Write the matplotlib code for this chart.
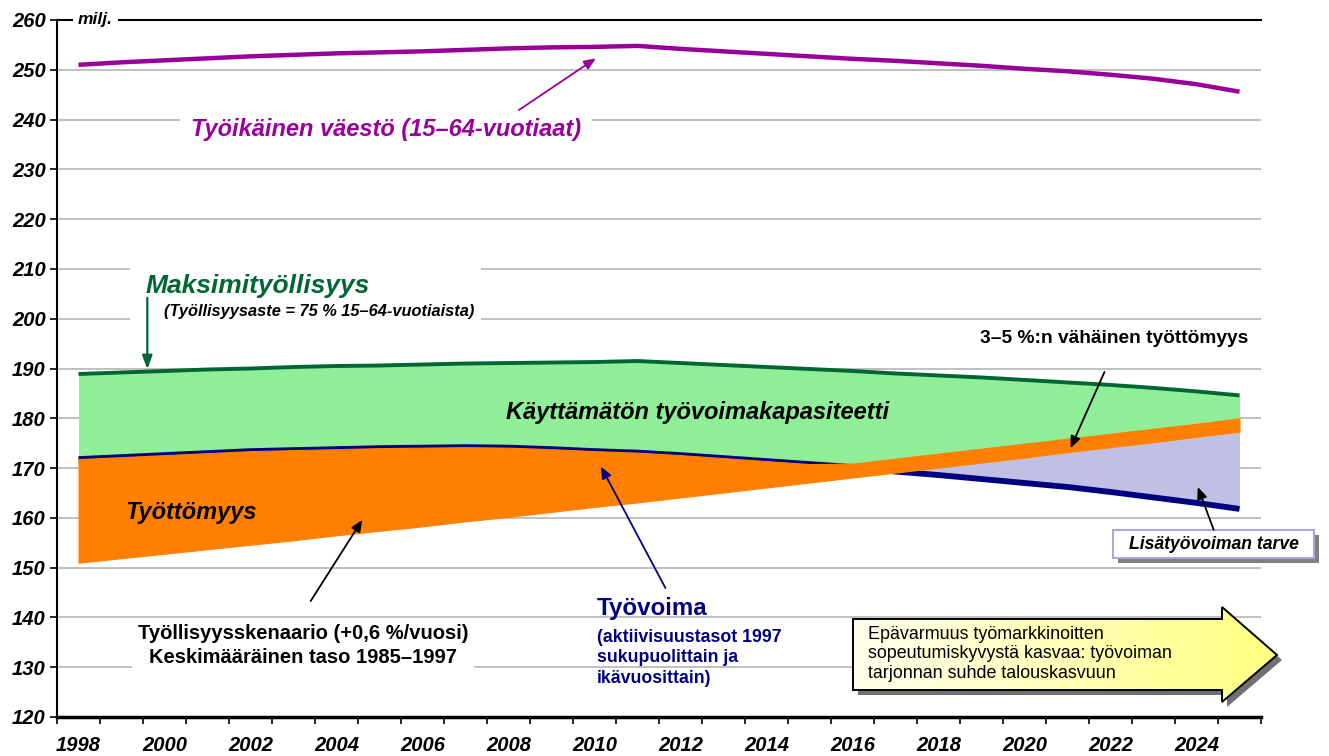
import numpy as np
import matplotlib.pyplot as plt
from matplotlib.patches import Polygon, Rectangle

plt.rcParams['font.family'] = ['Liberation Sans', 'DejaVu Sans']

# vuodet (kategoria-akseli)
years = np.arange(1998, 2026)

# tyoikainen vaesto 15-64 (milj.)
vaesto = [251.0, 251.5, 251.9, 252.3, 252.7, 253.0, 253.3, 253.5, 253.7, 254.0,
          254.3, 254.5, 254.6, 254.8, 254.2, 253.7, 253.2, 252.7, 252.2, 251.8,
          251.3, 250.8, 250.2, 249.7, 249.0, 248.2, 247.1, 245.6]

# maksimityollisyys (75 % 15-64-vuotiaista)
maksimi = [188.9, 189.2, 189.5, 189.8, 190.0, 190.3, 190.5, 190.6, 190.8, 191.0,
           191.1, 191.2, 191.3, 191.5, 191.1, 190.7, 190.3, 189.9, 189.5, 189.0,
           188.6, 188.2, 187.7, 187.2, 186.7, 186.1, 185.4, 184.6]

# tyovoima
tyovoima = [171.8, 172.2, 172.6, 173.0, 173.4, 173.6, 173.8, 174.0, 174.1, 174.2,
            174.1, 173.8, 173.4, 173.1, 172.6, 172.0, 171.4, 170.8, 170.2, 169.3,
            168.6, 167.8, 167.0, 166.2, 165.2, 164.1, 163.0, 161.8]

# tyollisyysskenaario
skenaario = [151.0, 151.9, 152.8, 153.7, 154.6, 155.5, 156.5, 157.4, 158.3, 159.3,
             160.2, 161.2, 162.2, 163.1, 164.1, 165.1, 166.1, 167.1, 168.1, 169.1,
             170.1, 171.1, 172.1, 173.2, 174.2, 175.2, 176.3, 177.3]

# tarvittava tyovoima (3-5 % vahainen tyottomyys)
tarve_years = np.arange(2015, 2026)
tarve = [169.9, 170.9, 171.9, 172.9, 173.9, 174.9, 175.9, 176.9, 177.9, 178.9, 180.0]

purple = '#990099'
dgreen = '#006633'
navy = '#000080'
orange = '#FF8000'
lgreen = '#90EE98'
lav = '#C0C0E4'

tarve_full = np.full(len(years), np.nan)
tarve_full[np.isin(years, tarve_years)] = tarve
top = np.fmax(np.array(tyovoima), tarve_full)
skn = np.array(skenaario)
tv = np.array(tyovoima)

fig = plt.figure(figsize=(13.29, 7.56), dpi=100)
ax = fig.add_axes([57/1329, 39/756, 1204/1329, 697/756])

ax.fill_between(years, top, maksimi, color=lgreen, lw=0, zorder=1)
ax.fill_between(years, tv, skn, where=skn > tv, interpolate=True, color=lav, lw=0, zorder=1)
ax.plot(years, tyovoima, color=navy, lw=4.2, zorder=2, solid_capstyle='butt')
ax.fill_between(years, skn, top, color=orange, edgecolor=orange, lw=0.8, zorder=3)
ax.plot(years, maksimi, color=dgreen, lw=2.8, zorder=4, solid_capstyle='butt')
ax.plot(years, vaesto, color=purple, lw=3.2, zorder=4, solid_capstyle='butt')

ax.set_xlim(1997.5, 2025.5)
ax.set_ylim(120, 260)
ax.set_yticks(np.arange(120, 261, 10))
ax.set_yticklabels([str(v) for v in range(120, 261, 10)], fontsize=14.5,
                   fontweight='bold', fontstyle='italic')
ax.tick_params(axis='y', direction='out', length=5, width=1.2, pad=3)
ax.set_xticks(np.arange(1997.5, 2026, 1))
ax.set_xticklabels([])
ax.tick_params(axis='x', which='major', direction='out', length=5, width=1.2)
ax.set_xticks(np.arange(1998, 2025, 2), minor=True)
ax.set_xticklabels([str(y) for y in range(1998, 2025, 2)], minor=True, fontsize=14.5,
                   fontweight='bold', fontstyle='italic')
ax.tick_params(axis='x', which='minor', length=0, pad=14)

ax.yaxis.grid(True, color='#C0C0C0', lw=1.4)
ax.set_axisbelow(True)
ax.spines['right'].set_visible(False)
ax.spines['left'].set_linewidth(1.5)
ax.spines['bottom'].set_linewidth(2.5)
ax.spines['top'].set_linewidth(1.5)

bold_it = dict(fontweight='bold', fontstyle='italic')

ax.text(1998.4, 260, 'milj.', fontsize=12.5, ha='center', va='center', zorder=6,
        bbox=dict(boxstyle='square,pad=0.3', fc='white', ec='none'), **bold_it)

# tyoikainen vaesto
ax.text(2005.15, 238.1, 'Työikäinen väestö (15–64-vuotiaat)', color=purple, fontsize=17,
        ha='center', va='center', zorder=6,
        bbox=dict(boxstyle='square,pad=0.45', fc='white', ec='none'), **bold_it)
ax.annotate('', xy=(2010.03, 252.3), xytext=(2008.24, 241.9), zorder=6,
            arrowprops=dict(arrowstyle='-|>,head_length=0.7,head_width=0.3',
                            color=purple, lw=1.3, shrinkA=0, shrinkB=0))

# maksimityollisyys
ax.add_patch(Rectangle((1999.19, 198.7), 8.17, 12.7, fc='white', ec='none', zorder=1.5))
ax.text(1999.55, 206.5, 'Maksimityöllisyys', color=dgreen, fontsize=19, ha='left',
        va='center', zorder=6, **bold_it)
ax.text(1999.98, 201.5, '(Työllisyysaste = 75 % 15–64-vuotiaista)', color='black',
        fontsize=11.8, ha='left', va='center', zorder=6, **bold_it)
ax.annotate('', xy=(1999.6, 189.9), xytext=(1999.6, 204.2), zorder=6,
            arrowprops=dict(arrowstyle='-|>,head_length=0.8,head_width=0.3',
                            color=dgreen, lw=1.6, shrinkA=0, shrinkB=0))

ax.text(2012.4, 181.1, 'Käyttämätön työvoimakapasiteetti', fontsize=17, ha='center',
        va='center', zorder=6, **bold_it)
ax.text(1999.08, 161.0, 'Työttömyys', fontsize=17, ha='left', va='center', zorder=6, **bold_it)

# skenaario
ax.text(2003.22, 134.4, 'Työllisyysskenaario (+0,6 %/vuosi)\nKeskimääräinen taso 1985–1997',
        fontsize=14.5, fontweight='bold', ha='center', va='center', linespacing=1.3,
        zorder=6, bbox=dict(boxstyle='square,pad=0.3', fc='white', ec='none'))
ax.annotate('', xy=(2004.6, 159.6), xytext=(2003.4, 143.3), zorder=6,
            arrowprops=dict(arrowstyle='-|>,head_length=0.7,head_width=0.3',
                            color='black', lw=1.3, shrinkA=0, shrinkB=0))

# tyovoima
ax.text(2010.05, 141.8, 'Työvoima', color=navy, fontsize=17.4, fontweight='bold',
        ha='left', va='center', zorder=6)
ax.text(2010.05, 131.9, '(aktiivisuustasot 1997\nsukupuolittain ja\nikävuosittain)',
        color=navy, fontsize=12.8, fontweight='bold', ha='left', va='center',
        linespacing=1.26, zorder=6)
ax.annotate('', xy=(2010.15, 170.3), xytext=(2011.65, 145.9), zorder=6,
            arrowprops=dict(arrowstyle='-|>,head_length=0.7,head_width=0.3',
                            color=navy, lw=1.3, shrinkA=0, shrinkB=0))

# vahainen tyottomyys
ax.text(2025.2, 196.1, '3–5 %:n vähäinen työttömyys', fontsize=13.8, fontweight='bold',
        ha='right', va='center', zorder=6)
ax.annotate('', xy=(2021.07, 174.0), xytext=(2021.86, 189.3), zorder=6,
            arrowprops=dict(arrowstyle='-|>,head_length=0.7,head_width=0.3',
                            color='black', lw=1.3, shrinkA=0, shrinkB=0))

# lisatyovoiman tarve
ax.add_patch(Rectangle((2022.17, 150.93), 4.69, 5.63, fc='#808080', ec='none',
                       zorder=5, clip_on=False))
ax.add_patch(Rectangle((2022.05, 151.93), 4.69, 5.63, fc='white', ec='#A8A8E0', lw=1.5,
                       zorder=5.5, clip_on=False))
ax.text(2024.4, 154.6, 'Lisätyövoiman tarve', fontsize=12.7, ha='center', va='center',
        zorder=6, clip_on=False, **bold_it)
ax.annotate('', xy=(2024.03, 166.2), xytext=(2024.4, 157.6), zorder=6,
            arrowprops=dict(arrowstyle='-|>,head_length=0.7,head_width=0.3',
                            color='black', lw=1.3, shrinkA=0, shrinkB=0))

# keltainen nuoli (pikselikoordinaatit)
ov = fig.add_axes([0, 0, 1, 1], zorder=5)
ov.set_xlim(0, 1329)
ov.set_ylim(756, 0)
ov.axis('off')
ov.patch.set_alpha(0)
arrow_xy = np.array([[853, 619], [1222, 619], [1222, 607], [1277, 655], [1222, 702],
                     [1222, 690], [853, 690]])
ov.add_patch(Polygon(arrow_xy + [5, 5], closed=True, fc='#707070', ec='none', zorder=1))
poly = Polygon(arrow_xy, closed=True, fc='none', ec='black', lw=1.4, zorder=3)
ov.add_patch(poly)
grad = np.linspace(0, 1, 256)
c0 = np.array([1.0, 1.0, 0.93])
c1 = np.array([1.0, 1.0, 0.50])
img = (c0[None, :] * (1 - grad[:, None]) + c1[None, :] * grad[:, None])[None, :, :]
im = ov.imshow(img, extent=(853, 1277, 702, 607), aspect='auto', zorder=2)
im.set_clip_path(poly)
ov.set_xlim(0, 1329)
ov.set_ylim(756, 0)
ov.text(868, 654, 'Epävarmuus työmarkkinoitten\nsopeutumiskyvystä kasvaa: työvoiman\n'
        'tarjonnan suhde talouskasvuun', fontsize=12.85, ha='left', va='center',
        linespacing=1.22, zorder=4)

fig.savefig('out.png', dpi=100)
